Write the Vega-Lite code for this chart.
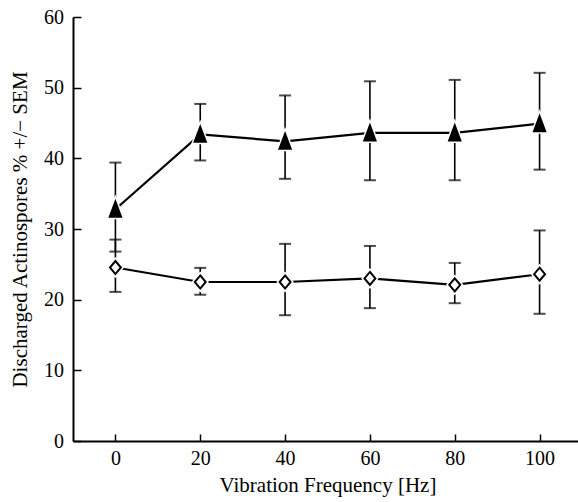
{
  "$schema": "https://vega.github.io/schema/vega-lite/v6.json",
  "width": 509,
  "height": 424,
  "autosize": {"type": "none"},
  "padding": {"left": 73, "top": 17, "right": 0, "bottom": 61},
  "config": {
    "view": {"stroke": null},
    "font": "Liberation Serif",
    "axis": {
      "grid": false,
      "domainColor": "black",
      "domainWidth": 2,
      "tickColor": "black",
      "tickWidth": 1.5,
      "labelColor": "black",
      "labelFont": "Liberation Serif",
      "labelFontSize": 20,
      "titleFont": "Liberation Serif",
      "titleFontSize": 21,
      "titleFontWeight": "normal",
      "titleColor": "black"
    }
  },
  "data": {
    "values": [
      {"freq": 0, "series": "Series 1", "mean": 32.8, "lo": 26.8, "hi": 39.4},
      {"freq": 20, "series": "Series 1", "mean": 43.4, "lo": 39.7, "hi": 47.7},
      {"freq": 40, "series": "Series 1", "mean": 42.4, "lo": 37.1, "hi": 48.9},
      {"freq": 60, "series": "Series 1", "mean": 43.6, "lo": 36.9, "hi": 50.9},
      {"freq": 80, "series": "Series 1", "mean": 43.6, "lo": 36.9, "hi": 51.1},
      {"freq": 100, "series": "Series 1", "mean": 44.9, "lo": 38.4, "hi": 52.1},
      {"freq": 0, "series": "Series 2", "mean": 24.55, "lo": 21.1, "hi": 28.5},
      {"freq": 20, "series": "Series 2", "mean": 22.5, "lo": 20.7, "hi": 24.5},
      {"freq": 40, "series": "Series 2", "mean": 22.5, "lo": 17.8, "hi": 27.9},
      {"freq": 60, "series": "Series 2", "mean": 23.0, "lo": 18.8, "hi": 27.6},
      {"freq": 80, "series": "Series 2", "mean": 22.1, "lo": 19.5, "hi": 25.2},
      {"freq": 100, "series": "Series 2", "mean": 23.6, "lo": 18.0, "hi": 29.8}
    ]
  },
  "encoding": {
    "x": {
      "field": "freq",
      "type": "quantitative",
      "scale": {"domain": [-10, 110], "nice": false, "zero": false},
      "axis": {
        "values": [0, 20, 40, 60, 80, 100],
        "title": "Vibration Frequency [Hz]",
        "tickSize": -7,
        "labelPadding": 14,
        "titlePadding": 6
      }
    }
  },
  "layer": [
    {
      "mark": {"type": "line", "color": "black", "strokeWidth": 2.2},
      "encoding": {
        "y": {
          "field": "mean",
          "type": "quantitative",
          "scale": {"domain": [0, 60], "nice": false},
          "axis": {
            "values": [0, 10, 20, 30, 40, 50, 60],
            "title": "Discharged Actinospores % +/− SEM",
            "tickSize": -8,
            "labelPadding": 17.5,
            "titlePadding": 13
          }
        },
        "detail": {"field": "series", "type": "nominal"}
      }
    },
    {
      "mark": {"type": "rule", "color": "black", "strokeWidth": 1.6},
      "encoding": {
        "y": {"field": "lo", "type": "quantitative"},
        "y2": {"field": "hi"}
      }
    },
    {
      "mark": {"type": "tick", "orient": "horizontal", "color": "black", "size": 12, "thickness": 2},
      "encoding": {"y": {"field": "lo", "type": "quantitative"}}
    },
    {
      "mark": {"type": "tick", "orient": "horizontal", "color": "black", "size": 12, "thickness": 2},
      "encoding": {"y": {"field": "hi", "type": "quantitative"}}
    },
    {
      "mark": {"type": "point", "filled": true, "color": "white", "stroke": "white", "strokeWidth": 5, "size": 225, "opacity": 1},
      "encoding": {
        "y": {"field": "mean", "type": "quantitative"},
        "shape": {
          "field": "series",
          "type": "nominal",
          "scale": {"domain": ["Series 1", "Series 2"], "range": ["M0,-1L0.75,1L-0.75,1Z", "M0,-0.87L0.73,0L0,0.87L-0.73,0Z"]},
          "legend": null
        }
      }
    },
    {
      "mark": {"type": "point", "filled": true, "stroke": "black", "strokeWidth": 2, "size": 225, "opacity": 1},
      "encoding": {
        "y": {"field": "mean", "type": "quantitative"},
        "shape": {
          "field": "series",
          "type": "nominal",
          "scale": {"domain": ["Series 1", "Series 2"], "range": ["M0,-1L0.75,1L-0.75,1Z", "M0,-0.87L0.73,0L0,0.87L-0.73,0Z"]},
          "legend": null
        },
        "fill": {
          "field": "series",
          "type": "nominal",
          "scale": {"domain": ["Series 1", "Series 2"], "range": ["black", "white"]},
          "legend": null
        }
      }
    }
  ]
}
